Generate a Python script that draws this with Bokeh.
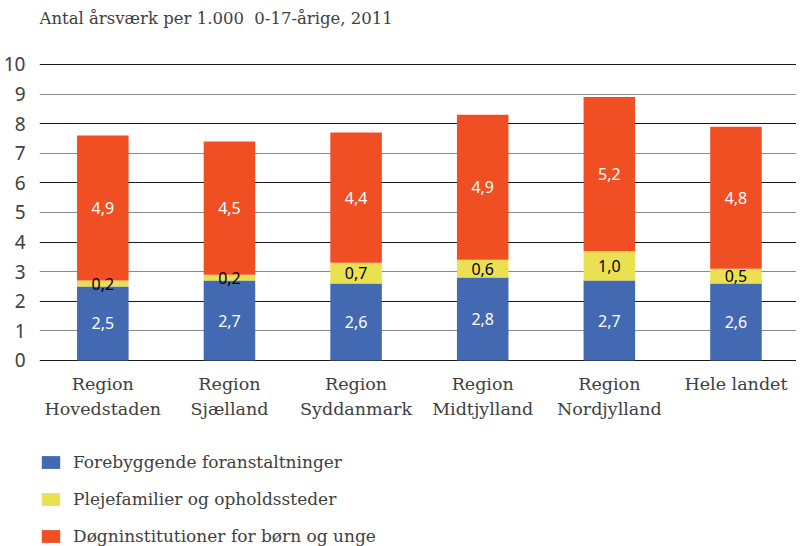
from bokeh.plotting import figure
from bokeh.models import (ColumnDataSource, Range1d, FixedTicker, Grid, Legend, LegendItem, Label)
from bokeh.core.properties import value
from bokeh.embed import file_html
from bokeh.resources import INLINE

categories = ["Region\nHovedstaden", "Region\nSjælland", "Region\nSyddanmark",
              "Region\nMidtjylland", "Region\nNordjylland", "Hele landet"]
forebyggende = [2.5, 2.7, 2.6, 2.8, 2.7, 2.6]
plejefamilier = [0.2, 0.2, 0.7, 0.6, 1.0, 0.5]
doegninst = [4.9, 4.5, 4.4, 4.9, 5.2, 4.8]
series_names = ["Forebyggende foranstaltninger", "Plejefamilier og opholdssteder",
                "Døgninstitutioner for børn og unge"]
colors = ["#4369b2", "#ebe052", "#f04f23"]
y_ticks = list(range(0, 11))
title_text = "Antal årsværk per 1.000\u00a0\u00a00-17-årige, 2011"

def fmt(v):
    return f"{v:.1f}".replace(".", ",")

xs = list(range(len(categories)))
source = ColumnDataSource(dict(
    x=xs, cat=categories, blue=forebyggende, yellow=plejefamilier, orange=doegninst,
    mid_blue=[b / 2 for b in forebyggende],
    mid_yellow=[b + y / 2 for b, y in zip(forebyggende, plejefamilier)],
    mid_orange=[b + y + o / 2 for b, y, o in zip(forebyggende, plejefamilier, doegninst)],
    lbl_blue=[fmt(v) for v in forebyggende],
    lbl_yellow=[fmt(v) for v in plejefamilier],
    lbl_orange=[fmt(v) for v in doegninst],
))

SERIF = "DejaVu Serif"
SANS = "Noto Sans"
TXT = "#404040"

# frame spans the full figure height; y range reaches below 0 to hold labels and legend
p = figure(width=796, height=546, output_backend="svg", toolbar_location=None,
           x_range=Range1d(-0.5, 5.478), y_range=Range1d(-6.284, 12.162),
           x_axis_location=None,
           min_border_left=32, min_border_right=0, min_border_top=0, min_border_bottom=0)
p.outline_line_color = None
p.background_fill_color = "white"

p.xgrid.visible = False
p.ygrid.visible = False
p.add_layout(Grid(dimension=1, ticker=FixedTicker(ticks=[0, 2, 4, 6, 8, 10]),
                  grid_line_color="#1a1a1a", grid_line_width=1))
p.add_layout(Grid(dimension=1, ticker=FixedTicker(ticks=[1, 3, 5, 7, 9]),
                  grid_line_color="#8a8a8a", grid_line_width=1))

renderers = p.vbar_stack(["blue", "yellow", "orange"], x="x", width=0.407, color=colors,
                         line_color=None, source=source)

for ycol, tcol, col in [("mid_blue", "lbl_blue", "white"),
                        ("mid_yellow", "lbl_yellow", "black"),
                        ("mid_orange", "lbl_orange", "white")]:
    p.text(x="x", y=ycol, text=tcol, source=source, text_color=col,
           text_font=value(SANS), text_font_size="16px", text_align="center",
           text_baseline="middle")

# category labels under the bars
p.text(x="x", y=0, text="cat", source=source, y_offset=14, text_color=TXT,
       text_font=value(SERIF), text_font_size="17.5px", text_align="center",
       text_baseline="top", text_line_height=1.23)

ya = p.yaxis[0]
ya.ticker = FixedTicker(ticks=y_ticks)
ya.axis_line_color = None
ya.major_tick_line_color = None
ya.minor_tick_line_color = None
ya.major_label_text_font = SANS
ya.major_label_text_font_size = "19px"
ya.major_label_text_color = "#404040"
ya.major_label_standoff = 8

p.add_layout(Label(x=0, y=528, x_units="screen", y_units="screen", text=title_text,
                   text_font=SERIF, text_font_size="16.5px", text_color=TXT,
                   text_baseline="middle", text_align="left"))

legend = Legend(items=[LegendItem(label=n, renderers=[r]) for n, r in zip(series_names, renderers)],
                orientation="vertical", location=(0, 0),
                label_text_font=SERIF, label_text_font_size="17px", label_text_color=TXT,
                glyph_width=23, glyph_height=16, label_height=20, spacing=17,
                label_standoff=11, padding=0, margin=0, border_line_color=None,
                background_fill_alpha=0)
p.add_layout(legend)

open("out.html", "w").write(file_html(p, INLINE))
